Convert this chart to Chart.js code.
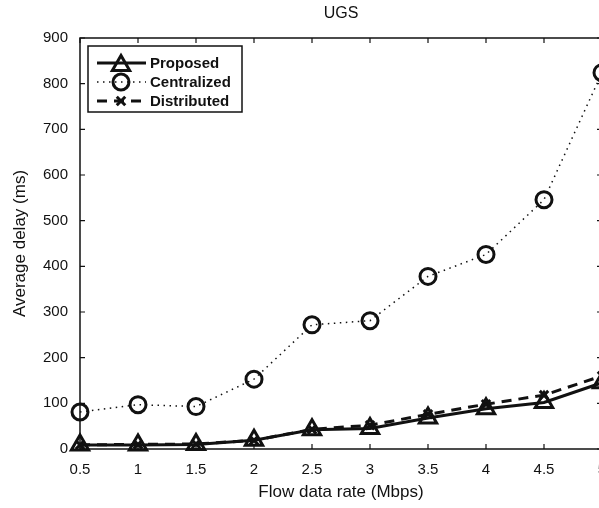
<!DOCTYPE html>
<html>
<head>
<meta charset="utf-8">
<script src="https://cdn.jsdelivr.net/npm/chart.js@4.4.0/dist/chart.umd.min.js"></script>
<style>
  html, body { margin: 0; padding: 0; background: #fff; overflow: hidden; width: 599px; height: 508px; }
  #wrap { position: relative; width: 620px; height: 508px; }
</style>
</head>
<body>
<div id="wrap"><canvas id="delay-chart"></canvas></div>
<script>
// values
const rates = ['0.5', '1', '1.5', '2', '2.5', '3', '3.5', '4', '4.5', '5'];
const proposed = [9, 9, 10, 19, 42, 45, 68, 88, 102, 145];
const centralized = [81, 97, 93, 153, 272, 281, 378, 426, 546, 824];
const distributed = [9, 10, 11, 19, 43, 52, 76, 98, 118, 160];
const yTicks = [0, 100, 200, 300, 400, 500, 600, 700, 800, 900];

const FONT = "'Liberation Sans', Arial, Helvetica, sans-serif";

// MATLAB style box, inward ticks and legend
const matlabBox = {
    id: 'matlabBox',
    afterDatasetsDraw(chart) {
        const ctx = chart.ctx;
        const a = chart.chartArea;
        const x = chart.scales.x, y = chart.scales.y;
        ctx.save();
        ctx.strokeStyle = '#111';
        ctx.lineWidth = 1.5;
        ctx.strokeRect(a.left, a.top, a.right - a.left, a.bottom - a.top);
        ctx.lineWidth = 1.2;
        ctx.beginPath();
        rates.forEach((r, i) => {
            const px = x.getPixelForValue(i);
            ctx.moveTo(px, a.bottom); ctx.lineTo(px, a.bottom - 5);
            ctx.moveTo(px, a.top); ctx.lineTo(px, a.top + 5);
        });
        yTicks.forEach(v => {
            const py = y.getPixelForValue(v);
            ctx.moveTo(a.left, py); ctx.lineTo(a.left + 5, py);
            ctx.moveTo(a.right, py); ctx.lineTo(a.right - 5, py);
        });
        ctx.stroke();
        ctx.restore();
    },
    afterDraw(chart) {
        const ctx = chart.ctx;
        ctx.save();
        ctx.fillStyle = '#fff';
        ctx.fillRect(88, 46, 154, 66);
        ctx.strokeStyle = '#111';
        ctx.lineWidth = 1.5;
        ctx.strokeRect(88, 46, 154, 66);
        const rows = [63, 82, 101];
        chart.data.datasets.forEach((ds, i) => {
            const yy = rows[i];
            ctx.strokeStyle = '#111';
            ctx.lineWidth = ds.borderWidth;
            ctx.setLineDash(ds.borderDash || []);
            ctx.beginPath();
            ctx.moveTo(97, yy); ctx.lineTo(146, yy);
            ctx.stroke();
            ctx.setLineDash([]);
            ctx.lineWidth = ds.pointBorderWidth;
            const r = ds.pointRadius;
            const cx = 121;
            ctx.beginPath();
            if (ds.pointStyle === 'triangle') {
                for (let k = 0; k < 3; k++) {
                    const ang = k * 2 * Math.PI / 3;
                    const px = cx + Math.sin(ang) * r, py = yy - Math.cos(ang) * r + r * 0.25;
                    if (k === 0) ctx.moveTo(px, py); else ctx.lineTo(px, py);
                }
                ctx.closePath();
            } else if (ds.pointStyle === 'circle') {
                ctx.arc(cx, yy, r, 0, Math.PI * 2);
            } else {
                const d = r * Math.SQRT1_2;
                ctx.moveTo(cx - d, yy - d); ctx.lineTo(cx + d, yy + d);
                ctx.moveTo(cx + d, yy - d); ctx.lineTo(cx - d, yy + d);
            }
            ctx.stroke();
            ctx.fillStyle = '#111';
            ctx.font = 'bold 15px ' + FONT;
            ctx.textBaseline = 'middle';
            ctx.textAlign = 'left';
            ctx.fillText(ds.label, 150, yy + 1);
        });
        ctx.restore();
    }
};

const delayData = {
    labels: rates,
    datasets: [
        {
            label: 'Proposed',
            data: proposed,
            borderColor: '#111',
            borderWidth: 3,
            pointStyle: 'triangle',
            pointRadius: 10,
            pointBorderWidth: 3,
            pointBorderColor: '#111',
            pointBackgroundColor: 'rgba(0,0,0,0)',
            clip: false
        },
        {
            label: 'Centralized',
            data: centralized,
            borderColor: '#111',
            borderWidth: 1.5,
            borderDash: [1.5, 4.5],
            pointStyle: 'circle',
            pointRadius: 8,
            pointBorderWidth: 3,
            pointBorderColor: '#111',
            pointBackgroundColor: 'rgba(0,0,0,0)',
            clip: false
        },
        {
            label: 'Distributed',
            data: distributed,
            borderColor: '#111',
            borderWidth: 3,
            borderDash: [10, 7],
            pointStyle: 'crossRot',
            pointRadius: 6,
            pointBorderWidth: 3,
            pointBorderColor: '#111',
            pointBackgroundColor: 'rgba(0,0,0,0)',
            clip: false
        }
    ]
};

const delayConfig = {
    type: 'line',
    data: delayData,
    options: {
        responsive: true,
        maintainAspectRatio: false,
        animation: false,
        layout: { padding: { top: 0, right: 18, left: 0, bottom: 0 } },
        elements: { line: { tension: 0 } },
        plugins: {
            legend: { display: false },
            tooltip: { enabled: false },
            title: {
                display: true,
                text: 'UGS',
                fullSize: false,
                color: '#111',
                font: { family: FONT, size: 16, weight: 'normal' },
                padding: { top: 4, bottom: 14.8 }
            }
        },
        scales: {
            x: {
                type: 'category',
                offset: false,
                grid: { display: false, drawTicks: false },
                border: { display: false },
                ticks: {
                    color: '#111',
                    padding: 12,
                    maxRotation: 0,
                    autoSkip: false,
                    font: { family: FONT, size: 15 }
                },
                title: {
                    display: true,
                    text: 'Flow data rate (Mbps)',
                    color: '#111',
                    font: { family: FONT, size: 17 },
                    padding: { top: 0, bottom: 5 }
                },
                afterFit: (scale) => { scale.height = 59; }
            },
            y: {
                min: 0,
                max: 900,
                grid: { display: false, drawTicks: false },
                border: { display: false },
                ticks: {
                    stepSize: 100,
                    color: '#111',
                    padding: 12,
                    font: { family: FONT, size: 15 }
                },
                title: {
                    display: true,
                    text: 'Average delay (ms)',
                    color: '#111',
                    font: { family: FONT, size: 17 },
                    padding: { top: 10, bottom: 0 }
                },
                afterFit: (scale) => { scale.width = 80; }
            }
        }
    },
    plugins: [matlabBox]
};

new Chart(document.getElementById('delay-chart'), delayConfig);
</script>
</body>
</html>
